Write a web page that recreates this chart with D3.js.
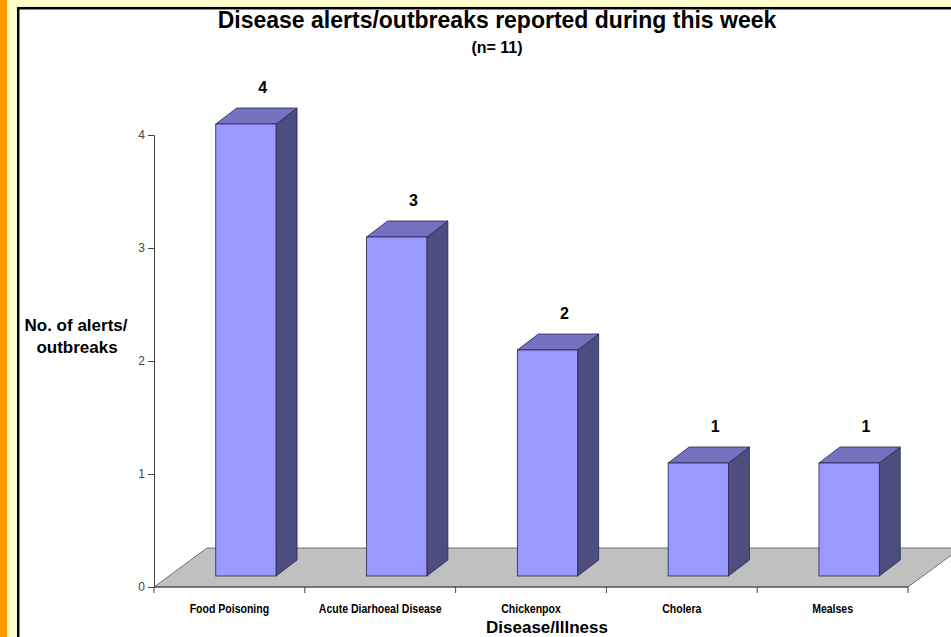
<!DOCTYPE html>
<html>
<head>
<meta charset="utf-8">
<script src="https://cdn.jsdelivr.net/npm/d3@7"></script>
<style>
  body { margin: 0; background: #ffffcc; }
  svg { display: block; }
  text { font-family: "Liberation Sans", Arial, sans-serif; }
</style>
</head>
<body>
<svg id="chart" width="951" height="637"></svg>
<script>
const categories = ['Food Poisoning', 'Acute Diarhoeal Disease', 'Chickenpox', 'Cholera', 'Mealses'];
const alertCounts = [4, 3, 2, 1, 1];
const yTicks = [0, 1, 2, 3, 4];

const width = 951;
const height = 637;

const svg = d3.select('#chart');

// page frame: orange strip, pale yellow margin, black border box
svg.append('rect').attr('x', 0).attr('y', 0).attr('width', width).attr('height', height).attr('fill', '#ffffcc');
svg.append('rect').attr('x', 0).attr('y', 0).attr('width', 7).attr('height', height).attr('fill', '#ff9900');
svg.append('rect')
  .attr('x', 18.2).attr('y', 8.2)
  .attr('width', width + 20).attr('height', height + 20)
  .attr('fill', '#ffffff')
  .attr('stroke', '#000').attr('stroke-width', 2.5);

const x = d3.scaleBand().domain(categories).range([154, 908]).padding(0);
const y = d3.scaleLinear().domain([0, 4]).range([587, 135]);

// depth of the floor and of the bars (3d look)
const floorDx = 53, floorDy = -39;
const offDx = 16.5, offDy = -11;
const barDx = 21, barDy = -16;

// floor
const x0 = x.range()[0], x1 = x.range()[1], y0 = y(0);
svg.append('path')
  .attr('d', `M${x0},${y0} L${x1},${y0} L${x1 + floorDx},${y0 + floorDy} L${x0 + floorDx},${y0 + floorDy} Z`)
  .attr('fill', '#c0c0c0')
  .attr('stroke', '#555')
  .attr('stroke-width', 0.8);

// y axis
const yAxis = svg.append('g')
  .attr('transform', `translate(${x0},0)`)
  .call(d3.axisLeft(y).tickValues(yTicks).tickSize(6).tickPadding(3).tickFormat(d3.format('d')));
yAxis.select('.domain').attr('stroke', '#444');
yAxis.selectAll('.tick line').attr('stroke', '#444');
yAxis.selectAll('.tick text')
  .attr('fill', '#444')
  .style('font-size', '12px')
  .style('font-family', '"Liberation Sans", Arial, sans-serif');

// x axis: ticks on category boundaries
const xAxis = svg.append('g').attr('transform', `translate(0,${y0})`);
xAxis.append('line').attr('x1', x0).attr('x2', x1).attr('y1', 0).attr('y2', 0).attr('stroke', '#444');
const bounds = categories.map((c) => x(c)).concat([x1]);
xAxis.selectAll('line.tk').data(bounds).join('line')
  .attr('class', 'tk')
  .attr('x1', (d) => d).attr('x2', (d) => d)
  .attr('y1', 0).attr('y2', 6)
  .attr('stroke', '#444');
// narrow bold labels: squeeze horizontally
xAxis.selectAll('text').data(categories).join('text')
  .attr('transform', (d) => `translate(${x(d) + x.bandwidth() / 2},26) scale(0.81,1)`)
  .attr('text-anchor', 'middle')
  .style('font-weight', 'bold')
  .style('font-size', '13px')
  .text((d) => d);

// bars
const bw = x.bandwidth() * 0.4;
const bars = svg.selectAll('g.bar').data(categories).join('g').attr('class', 'bar');

bars.each((d, i, n) => {
  const g = d3.select(n[i]);
  const v = alertCounts[i];
  const left = x(d) + x.bandwidth() * 0.3 + offDx;
  const right = left + bw;
  const top = y(v) + offDy;
  const bottom = y0 + offDy;

  g.append('path')
    .attr('d', `M${right},${bottom} L${right + barDx},${bottom + barDy} L${right + barDx},${top + barDy} L${right},${top} Z`)
    .attr('fill', '#4d4d80').attr('stroke', '#262650').attr('stroke-width', 0.8);
  g.append('path')
    .attr('d', `M${left},${top} L${left + barDx},${top + barDy} L${right + barDx},${top + barDy} L${right},${top} Z`)
    .attr('fill', '#7373c0').attr('stroke', '#262650').attr('stroke-width', 0.8);
  g.append('rect')
    .attr('x', left).attr('y', top)
    .attr('width', bw).attr('height', bottom - top)
    .attr('fill', '#9999ff').attr('stroke', '#262650').attr('stroke-width', 0.8);

  g.append('text')
    .attr('x', left + 47)
    .attr('y', top - 31)
    .attr('text-anchor', 'middle')
    .style('font-weight', 'bold')
    .style('font-size', '16px')
    .text(v);
});

// titles
svg.append('text')
  .attr('x', 497).attr('y', 28)
  .attr('text-anchor', 'middle')
  .style('font-weight', 'bold').style('font-size', '23px')
  .text('Disease alerts/outbreaks reported during this week');
svg.append('text')
  .attr('x', 497).attr('y', 53)
  .attr('text-anchor', 'middle')
  .style('font-weight', 'bold').style('font-size', '16px')
  .text('(n= 11)');

svg.append('text')
  .attr('x', 76).attr('y', 331)
  .attr('text-anchor', 'middle')
  .style('font-weight', 'bold').style('font-size', '17px')
  .text('No. of alerts/');
svg.append('text')
  .attr('x', 77).attr('y', 353)
  .attr('text-anchor', 'middle')
  .style('font-weight', 'bold').style('font-size', '17px')
  .text('outbreaks');

svg.append('text')
  .attr('x', 547).attr('y', 633)
  .attr('text-anchor', 'middle')
  .style('font-weight', 'bold').style('font-size', '17px')
  .text('Disease/Illness');
</script>
</body>
</html>
